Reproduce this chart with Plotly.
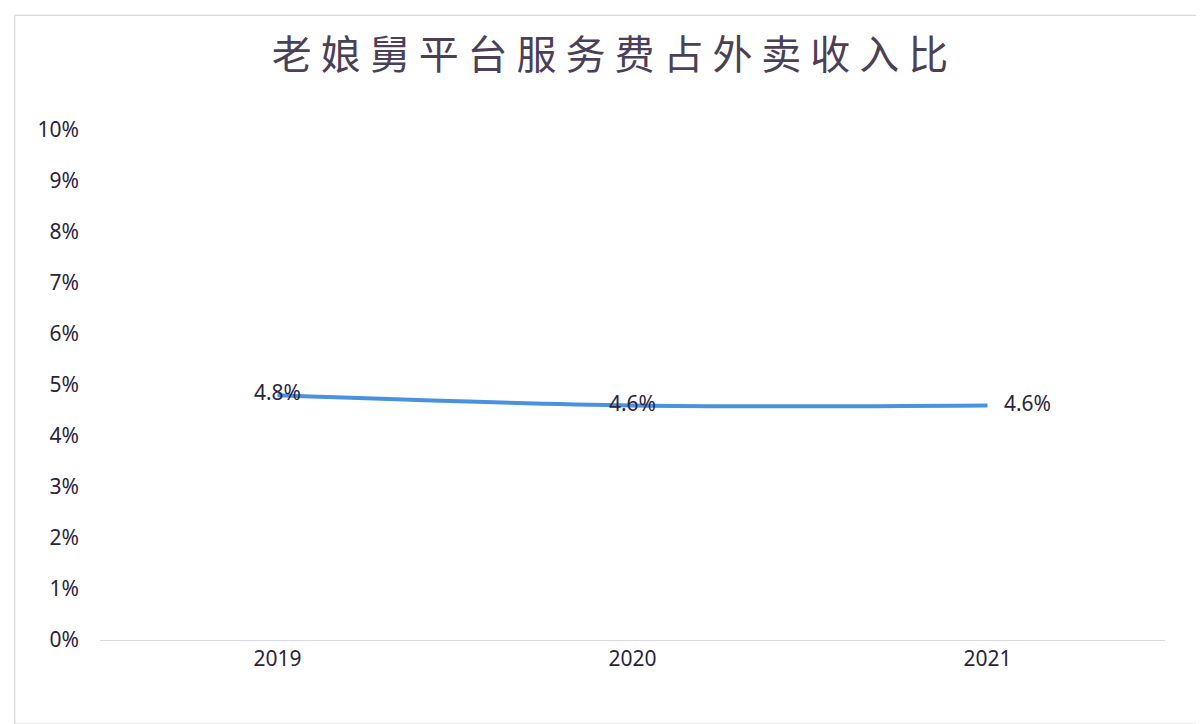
import plotly.graph_objects as go

years = ["2019", "2020", "2021"]
ratios = [4.8, 4.6, 4.6]
labels = ["4.8%", "4.6%", "   4.6%"]
y_ticks = list(range(0, 11))
y_tick_labels = [f"{v}%" for v in y_ticks]

fig = go.Figure(go.Scatter(
    x=years, y=ratios, mode="lines+text", text=labels,
    textposition=["middle center", "middle center", "middle right"],
    textfont=dict(size=21, color="#2b2340", family="Noto Sans"),
    line=dict(color="#4a92e0", width=4, shape="spline"),
    hoverinfo="skip"))
fig.update_layout(
    width=1204, height=724,
    margin=dict(l=92, r=47, t=122, b=92),
    paper_bgcolor="white", plot_bgcolor="white",
    title=dict(text="老 娘 舅 平 台 服 务 费 占 外 卖 收 入 比", x=0.5, xanchor="center", y=0.935, yanchor="middle",
               font=dict(size=40, color="#4a4058", family="Noto Sans CJK SC")),
    showlegend=False,
    font=dict(family="Noto Sans", color="#2b2340", size=21),
    xaxis=dict(type="category", range=[-0.5, 2.5], showgrid=False, showline=True,
               linecolor="#d8d8e4", ticks="", tickfont=dict(size=21, color="#2b2340")),
    yaxis=dict(range=[0, 10], tickvals=y_ticks, ticktext=y_tick_labels, showgrid=False,
               zeroline=False, showline=False, ticks="", ticklabelstandoff=20,
               tickfont=dict(size=21, color="#2b2340")),
    shapes=[dict(type="rect", xref="paper", yref="paper", x0=-0.08, x1=1.035, y0=-0.165, y1=1.225,
                 line=dict(color="#d0d0d0", width=1))],
)
fig.write_html("out.html")
